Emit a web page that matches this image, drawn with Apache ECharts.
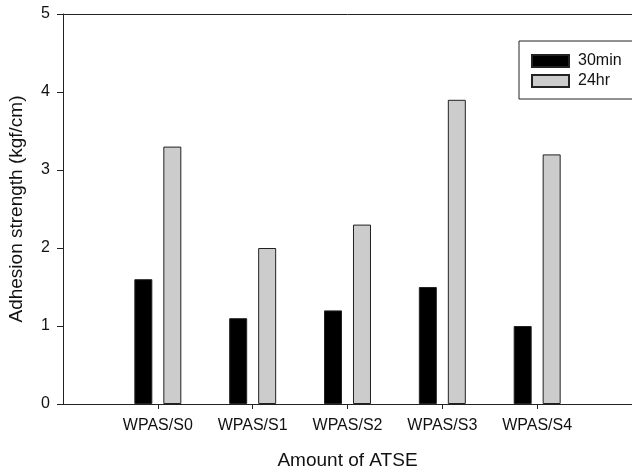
<!DOCTYPE html>
<html><head><meta charset="utf-8">
<script src="https://cdn.jsdelivr.net/npm/echarts@6/dist/echarts.min.js"></script>
<style>html,body{margin:0;padding:0;background:#fff}#c{width:632px;height:469px}</style>
</head><body><div id="c"></div>
<script>
const categories = ['', 'WPAS/S0', 'WPAS/S1', 'WPAS/S2', 'WPAS/S3', 'WPAS/S4', ''];
const series30min = [null, 1.6, 1.1, 1.2, 1.5, 1.0, null];
const series24hr = [null, 3.3, 2.0, 2.3, 3.9, 3.2, null];
const yTicks = [0, 1, 2, 3, 4, 5];

const font = 'Liberation Sans, Arial, sans-serif';
const chart = echarts.init(document.getElementById('c'), null, {renderer: 'canvas'});
const keep = (i, v) => v !== '';
chart.setOption({
  animation: false,
  grid: {left: 63, right: 0, top: 14, bottom: 65, containLabel: false, outerBoundsMode: 'none'},
  legend: {
    orient: 'vertical', left: 519, top: 41, width: 112,
    padding: [12, 12, 10, 12], itemGap: 4,
    itemWidth: 37, itemHeight: 12, icon: 'rect',
    borderColor: '#222', borderWidth: 1,
    textStyle: {fontFamily: font, fontSize: 16, color: '#111', padding: [0, 0, 0, 4]},
    data: ['30min', '24hr']
  },
  xAxis: [{
    type: 'category', data: categories, boundaryGap: false,
    name: 'Amount of ATSE', nameLocation: 'middle', nameGap: 47,
    nameTextStyle: {fontFamily: font, fontSize: 19, color: '#111'},
    axisLine: {lineStyle: {color: '#222', width: 1}},
    axisTick: {show: true, length: 5, interval: keep, lineStyle: {color: '#222'}},
    axisLabel: {interval: keep, fontFamily: font, fontSize: 16, color: '#111', margin: 14},
    splitLine: {show: false}
  }, {
    type: 'category', data: categories, boundaryGap: false, position: 'top',
    axisLine: {lineStyle: {color: '#222', width: 1}},
    axisTick: {show: false}, axisLabel: {show: false}, splitLine: {show: false}
  }],
  yAxis: {
    type: 'value', min: yTicks[0], max: yTicks[yTicks.length - 1], interval: 1,
    name: 'Adhesion strength (kgf/cm)', nameLocation: 'middle', nameGap: 37, nameRotate: 90,
    nameTextStyle: {fontFamily: font, fontSize: 19, color: '#111'},
    axisLine: {show: true, lineStyle: {color: '#222', width: 1}},
    axisTick: {show: true, length: 6, lineStyle: {color: '#222'}},
    axisLabel: {fontFamily: font, fontSize: 16, color: '#111', margin: 13},
    splitLine: {show: false}
  },
  series: [{
    name: '30min', type: 'bar', data: series30min, barWidth: 18, barGap: '61%',
    itemStyle: {color: '#000', borderColor: '#222', borderWidth: 1}
  }, {
    name: '24hr', type: 'bar', data: series24hr, barWidth: 18, barGap: '61%',
    itemStyle: {color: '#cccccc', borderColor: '#222', borderWidth: 1}
  }]
});
</script></body></html>
